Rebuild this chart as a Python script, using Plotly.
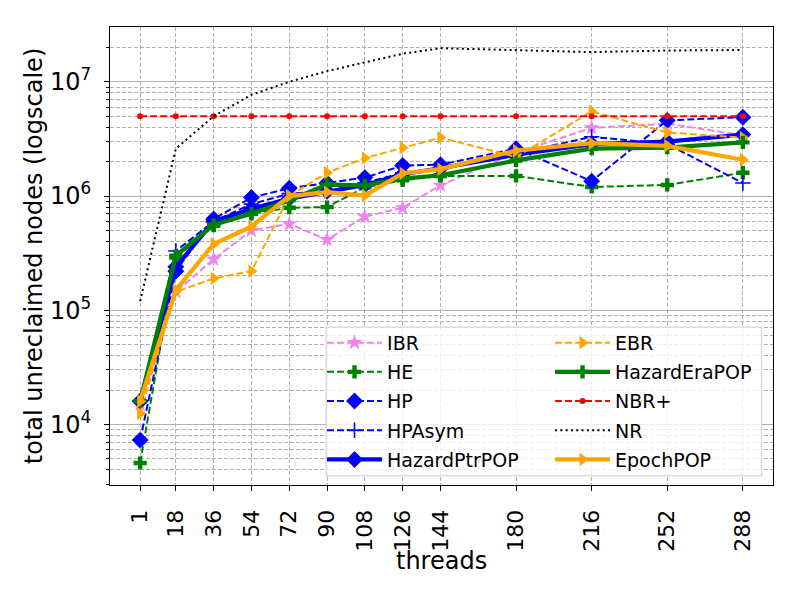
"""Unreclaimed-node counts per reclamation scheme, log-scale, vs thread count."""

import plotly.graph_objects as go

threads = [1, 18, 36, 54, 72, 90, 108, 126, 144, 180, 216, 252, 288]

ibr = [1.5e4, 1.45e5, 2.8e5, 5.0e5, 5.7e5, 4.15e5, 6.6e5, 7.9e5, 1.24e6, 2.4e6, 3.95e6, 4.3e6, 3.4e6]
he = [4.6e3, 2.9e5, 5.5e5, 7.0e5, 7.9e5, 8.0e5, 1.19e6, 1.37e6, 1.5e6, 1.5e6, 1.2e6, 1.25e6, 1.6e6]
hp = [7.3e3, 2.2e5, 6.3e5, 9.7e5, 1.17e6, 1.3e6, 1.45e6, 1.85e6, 1.88e6, 2.6e6, 1.35e6, 4.6e6, 4.9e6]
hp_asym = [1.6e4, 3.3e5, 6.0e5, 8.5e5, 1.05e6, 1.1e6, 1.3e6, 1.6e6, 1.75e6, 2.35e6, 3.3e6, 2.85e6, 1.3e6]
hazard_ptr_pop = [1.6e4, 2.4e5, 6.0e5, 7.7e5, 9.5e5, 1.1e6, 1.25e6, 1.55e6, 1.75e6, 2.3e6, 2.85e6, 3.0e6, 3.45e6]
ebr = [1.25e4, 1.45e5, 1.9e5, 2.2e5, 1.0e6, 1.6e6, 2.15e6, 2.65e6, 3.25e6, 2.2e6, 5.5e6, 3.6e6, 3.25e6]
hazard_era_pop = [1.6e4, 3.0e5, 5.6e5, 7.0e5, 9.2e5, 1.26e6, 1.24e6, 1.42e6, 1.52e6, 2.05e6, 2.6e6, 2.65e6, 2.95e6]
nbr_plus = [5.0e6, 5.0e6, 5.0e6, 5.0e6, 5.0e6, 5.0e6, 5.0e6, 5.0e6, 5.0e6, 5.0e6, 5.0e6, 5.0e6, 5.0e6]
nr = [1.2e5, 2.6e6, 5.0e6, 7.7e6, 1.0e7, 1.24e7, 1.48e7, 1.76e7, 1.97e7, 1.9e7, 1.82e7, 1.88e7, 1.9e7]
epoch_pop = [1.6e4, 1.5e5, 3.8e5, 5.4e5, 1.0e6, 1.08e6, 1.01e6, 1.58e6, 1.72e6, 2.5e6, 2.9e6, 2.75e6, 2.08e6]

y_major = [1e4, 1e5, 1e6, 1e7]
y_major_text = ["10<sup>4</sup>", "10<sup>5</sup>", "10<sup>6</sup>", "10<sup>7</sup>"]

FONT = "DejaVu Sans"
GRID = "#b0b0b0"
DASH = "7px,3px"
DOT = "2px,3.3px"
GRID_DASH = "4px,2px"

# (name, values, color, symbol, marker size, width, dash, legend column)
# drawn in matplotlib order; the two legends stand in for its ncol=2 legend
series = [
    ("IBR", ibr, "violet", "star", 12, 2, DASH, "legend"),
    ("HE", he, "green", "cross", 11, 2, DASH, "legend"),
    ("HP", hp, "blue", "diamond", 13, 2, DASH, "legend"),
    ("HPAsym", hp_asym, "blue", "cross-thin", 11, 2, DASH, "legend"),
    ("HazardPtrPOP", hazard_ptr_pop, "blue", "diamond", 13, 4.2, "solid", "legend"),
    ("EBR", ebr, "orange", "triangle-right", 12, 2, DASH, "legend2"),
    ("HazardEraPOP", hazard_era_pop, "green", "cross", 11, 4.2, "solid", "legend2"),
    ("NBR+", nbr_plus, "red", "circle", 6, 2, DASH, "legend2"),
    ("NR", nr, "black", None, 0, 2, DOT, "legend2"),
    ("EpochPOP", epoch_pop, "orange", "triangle-right", 12, 4.2, "solid", "legend2"),
]

fig = go.Figure()
for name, values, color, symbol, size, width, dash, legend in series:
    marker = dict(color=color, size=size, symbol=symbol or "circle")
    if symbol == "cross-thin":
        marker["line"] = dict(color=color, width=1.6)
    fig.add_trace(
        go.Scatter(
            x=threads,
            y=values,
            name=name,
            mode="lines+markers" if symbol else "lines",
            line=dict(color=color, width=width, dash=dash),
            marker=marker,
            legend=legend,
            legendgroup=name,
        )
    )

minor_vals = [m * 10**e for e in range(3, 8) for m in range(2, 10) if m * 10**e < 3e7]

legend_style = dict(
    orientation="v",
    y=0.352,
    yanchor="top",
    xanchor="left",
    traceorder="grouped",
    tracegroupgap=1.5,
    itemwidth=55,
    font=dict(family=FONT, size=19, color="black"),
    bgcolor="rgba(0,0,0,0)",
    borderwidth=0,
)

fig.update_layout(
    width=800,
    height=600,
    # the page adds an 8px body margin, so the margins are shifted by that much
    margin=dict(l=102, r=35, t=19, b=123, autoexpand=False),
    plot_bgcolor="white",
    paper_bgcolor="white",
    font=dict(family=FONT, size=24, color="black"),
    showlegend=True,
    legend=dict(x=0.3198, **legend_style),
    legend2=dict(x=0.6637, **legend_style),
    # shared frame behind both legend columns
    shapes=[
        dict(
            type="rect",
            xref="paper",
            yref="paper",
            x0=0.326,
            x1=0.983,
            y0=0.02,
            y1=0.345,
            layer="above",
            fillcolor="rgba(255,255,255,0.8)",
            line=dict(color="#cccccc", width=1),
        )
    ],
    annotations=[
        dict(
            text="threads",
            xref="paper",
            yref="paper",
            x=0.5,
            y=-0.167,
            xanchor="center",
            yanchor="middle",
            showarrow=False,
            font=dict(family=FONT, size=24, color="black"),
        )
    ],
)

fig.update_xaxes(
    automargin=False,
    range=[-13.35, 302.35],
    tickmode="array",
    tickvals=threads,
    ticktext=[str(t) for t in threads],
    tickangle=-90,
    tickfont=dict(size=22),
    ticklabelstandoff=10,
    ticks="outside",
    ticklen=5,
    tickcolor="black",
    showline=True,
    linecolor="black",
    mirror=True,
    showgrid=True,
    gridcolor=GRID,
    griddash=GRID_DASH,
    zeroline=False,
)

fig.update_yaxes(
    title=dict(text="total unreclaimed nodes (logscale)", font=dict(size=24), standoff=0),
    automargin=False,
    type="log",
    range=[3.47, 7.48],
    tickmode="array",
    tickvals=y_major,
    ticktext=y_major_text,
    tickfont=dict(size=24),
    ticklabelstandoff=8,
    ticks="outside",
    ticklen=5,
    tickcolor="black",
    showline=True,
    linecolor="black",
    mirror=True,
    showgrid=True,
    gridcolor=GRID,
    zeroline=False,
    minor=dict(
        tickmode="array",
        tickvals=minor_vals,
        ticks="outside",
        ticklen=3,
        tickcolor="black",
        showgrid=True,
        gridcolor=GRID,
        griddash=GRID_DASH,
    ),
)

fig.write_html("out.html")
